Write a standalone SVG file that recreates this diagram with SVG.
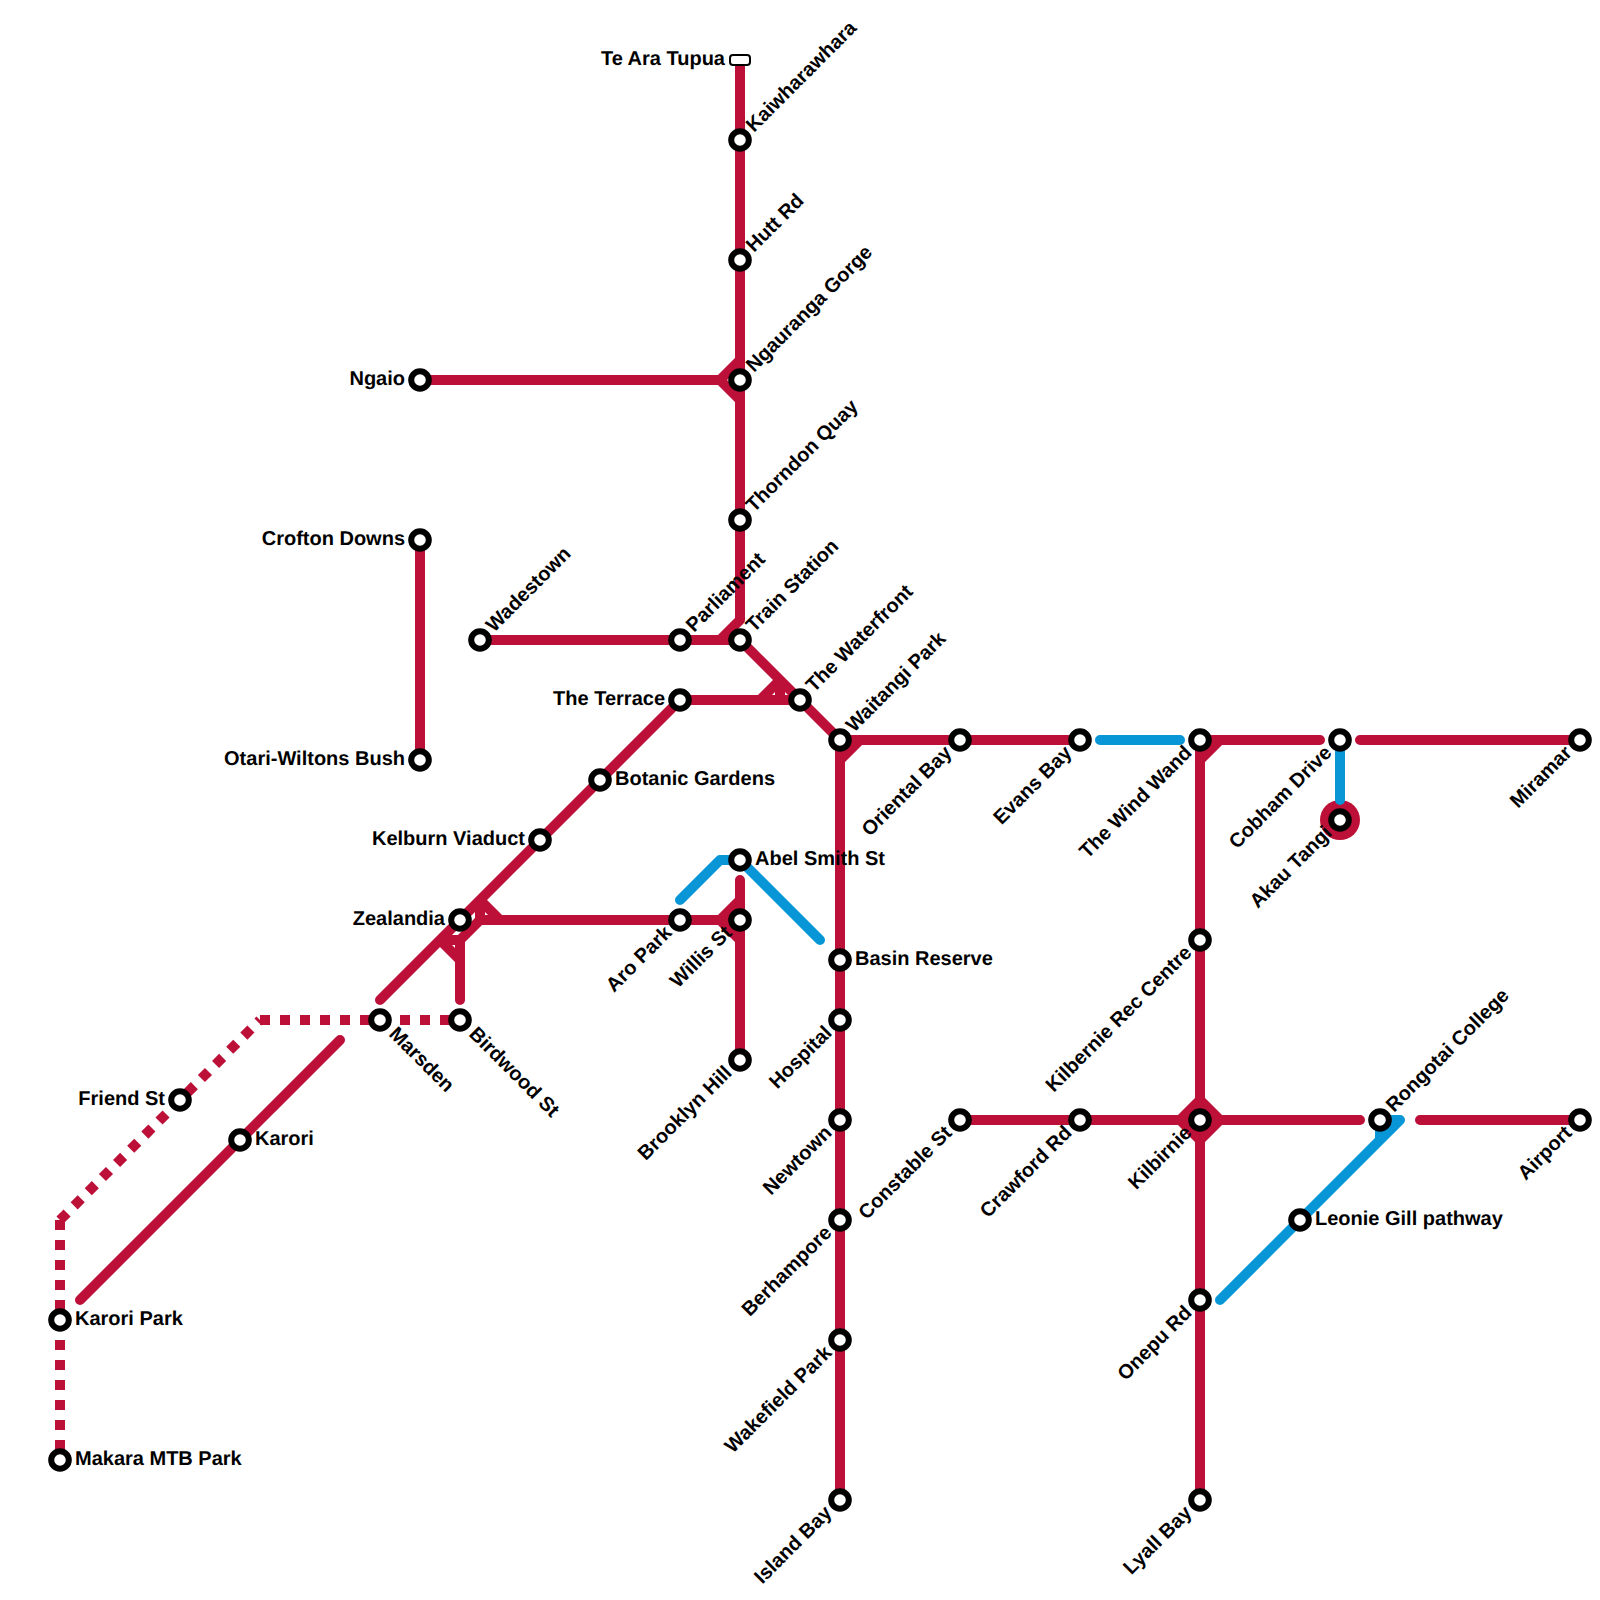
<svg xmlns="http://www.w3.org/2000/svg" width="1600" height="1600" viewBox="0 0 1600 1600">
<style>
.r{fill:none;stroke:#bd1038;stroke-width:10;stroke-linecap:round;stroke-linejoin:round}
.b{fill:none;stroke:#0896d7;stroke-width:10;stroke-linecap:round;stroke-linejoin:round}
.d{fill:none;stroke:#bd1038;stroke-width:10;stroke-dasharray:10 10}
.s{fill:#fff;stroke:#000;stroke-width:6}
text{font-family:"Liberation Sans",Arial,sans-serif;font-weight:700;font-size:20px;fill:#000;text-rendering:geometricPrecision}
.e{text-anchor:end}
</style>
<rect width="1600" height="1600" fill="#fff"/>
<g id="connectors">
<path class="r" d="M740 60V620M420 380H720M720 380L740 360M720 380L740 400M420 540V760M480 640H740M720 640L740 620M740 640L840 740M680 700H800M760 700L780 680M780 680V700M840 740H1080M860 740L840 760M840 740V1500M380 1000L680 700M480 920H740M480 900L500 920M480 900V920M480 920L460 940V1000M440 940L460 960M440 940H460M720 920L740 900M720 920L740 940M740 880V1060M80 1300L340 1040M1200 740V1500M1200 740H1320M1220 740L1200 760M1360 740H1580M960 1120H1360M1420 1120H1580"/>
<path d="M1180 1120L1200 1100L1220 1120L1200 1140Z" fill="#bd1038" stroke="#bd1038" stroke-width="10" stroke-linejoin="round"/>
<circle cx="1340" cy="820" r="20" fill="#bd1038"/>
<path class="d" d="M60 1220L260 1020"/>
<path class="d" d="M60 1220V1460"/>
<path class="d" d="M260 1020H460"/>
<path class="b" d="M680 900L720 860H740L820 940M1100 740H1180M1340 740V800M1220 1300L1400 1120H1380V1140"/>
</g>
<rect id="te-ara-tupua" x="730" y="55" width="20" height="10" rx="3" fill="#fff" stroke="#000" stroke-width="2"/>
<g id="stations">
<circle id="kaiwharawhara" class="s" cx="740" cy="140" r="8.8"/>
<circle id="hutt-rd" class="s" cx="740" cy="260" r="8.8"/>
<circle id="ngauranga-gorge" class="s" cx="740" cy="380" r="8.8"/>
<circle id="thorndon-quay" class="s" cx="740" cy="520" r="8.8"/>
<circle id="train-station" class="s" cx="740" cy="640" r="8.8"/>
<circle id="parliament" class="s" cx="680" cy="640" r="8.8"/>
<circle id="wadestown" class="s" cx="480" cy="640" r="8.8"/>
<circle id="the-terrace" class="s" cx="680" cy="700" r="8.8"/>
<circle id="the-waterfront" class="s" cx="800" cy="700" r="8.8"/>
<circle id="waitangi-park" class="s" cx="840" cy="740" r="8.8"/>
<circle id="oriental-bay" class="s" cx="960" cy="740" r="8.8"/>
<circle id="evans-bay" class="s" cx="1080" cy="740" r="8.8"/>
<circle id="the-wind-wand" class="s" cx="1200" cy="740" r="8.8"/>
<circle id="cobham-drive" class="s" cx="1340" cy="740" r="8.8"/>
<circle id="miramar" class="s" cx="1580" cy="740" r="8.8"/>
<circle id="akau-tangi" class="s" cx="1340" cy="820" r="8.8"/>
<circle id="abel-smith-st" class="s" cx="740" cy="860" r="8.8"/>
<circle id="willis-st" class="s" cx="740" cy="920" r="8.8"/>
<circle id="aro-park" class="s" cx="680" cy="920" r="8.8"/>
<circle id="basin-reserve" class="s" cx="840" cy="960" r="8.8"/>
<circle id="hospital" class="s" cx="840" cy="1020" r="8.8"/>
<circle id="newtown" class="s" cx="840" cy="1120" r="8.8"/>
<circle id="berhampore" class="s" cx="840" cy="1220" r="8.8"/>
<circle id="wakefield-park" class="s" cx="840" cy="1340" r="8.8"/>
<circle id="island-bay" class="s" cx="840" cy="1500" r="8.8"/>
<circle id="constable-st" class="s" cx="960" cy="1120" r="8.8"/>
<circle id="crawford-rd" class="s" cx="1080" cy="1120" r="8.8"/>
<circle id="kilbirnie" class="s" cx="1200" cy="1120" r="8.8"/>
<circle id="rongotai-college" class="s" cx="1380" cy="1120" r="8.8"/>
<circle id="airport" class="s" cx="1580" cy="1120" r="8.8"/>
<circle id="leonie-gill-pathway" class="s" cx="1300" cy="1220" r="8.8"/>
<circle id="onepu-rd" class="s" cx="1200" cy="1300" r="8.8"/>
<circle id="lyall-bay" class="s" cx="1200" cy="1500" r="8.8"/>
<circle id="kilbirnie-rec-centre" class="s" cx="1200" cy="940" r="8.8"/>
<circle id="brooklyn-hill" class="s" cx="740" cy="1060" r="8.8"/>
<circle id="zealandia" class="s" cx="460" cy="920" r="8.8"/>
<circle id="birdwood-st" class="s" cx="460" cy="1020" r="8.8"/>
<circle id="marsden" class="s" cx="380" cy="1020" r="8.8"/>
<circle id="kelburn-viaduct" class="s" cx="540" cy="840" r="8.8"/>
<circle id="botanic-gardens" class="s" cx="600" cy="780" r="8.8"/>
<circle id="karori" class="s" cx="240" cy="1140" r="8.8"/>
<circle id="karori-park" class="s" cx="60" cy="1320" r="8.8"/>
<circle id="makara-mtb-park" class="s" cx="60" cy="1460" r="8.8"/>
<circle id="friend-st" class="s" cx="180" cy="1100" r="8.8"/>
<circle id="ngaio" class="s" cx="420" cy="380" r="8.8"/>
<circle id="crofton-downs" class="s" cx="420" cy="540" r="8.8"/>
<circle id="otari-wiltons-bush" class="s" cx="420" cy="760" r="8.8"/>
</g>
<g id="labels">
<text class="e" x="725" y="65">Te Ara Tupua</text>
<text transform="translate(749 128) rotate(-45)" x="0" y="7">Kaiwharawhara</text>
<text transform="translate(749 248) rotate(-45)" x="0" y="7">Hutt Rd</text>
<text transform="translate(749 368) rotate(-45)" x="0" y="7">Ngauranga Gorge</text>
<text transform="translate(749 508) rotate(-45)" x="0" y="7">Thorndon Quay</text>
<text transform="translate(749 628) rotate(-45)" x="0" y="7">Train Station</text>
<text transform="translate(689 628) rotate(-45)" x="0" y="7">Parliament</text>
<text transform="translate(489 628) rotate(-45)" x="0" y="7">Wadestown</text>
<text transform="translate(809 688) rotate(-45)" x="0" y="7">The Waterfront</text>
<text transform="translate(849 728) rotate(-45)" x="0" y="7">Waitangi Park</text>
<text transform="translate(1389 1108) rotate(-45)" x="0" y="7">Rongotai College</text>
<text class="e" x="405" y="385">Ngaio</text>
<text class="e" x="405" y="545">Crofton Downs</text>
<text class="e" x="405" y="765">Otari-Wiltons Bush</text>
<text class="e" x="665" y="705">The Terrace</text>
<text class="e" x="525" y="845">Kelburn Viaduct</text>
<text class="e" x="445" y="925">Zealandia</text>
<text class="e" x="165" y="1105">Friend St</text>
<text x="615" y="785">Botanic Gardens</text>
<text x="755" y="865">Abel Smith St</text>
<text x="855" y="965">Basin Reserve</text>
<text x="255" y="1145">Karori</text>
<text x="75" y="1325">Karori Park</text>
<text x="75" y="1465">Makara MTB Park</text>
<text x="1315" y="1225">Leonie Gill pathway</text>
<text transform="translate(393 1030) rotate(45)" x="0" y="7">Marsden</text>
<text transform="translate(473 1030) rotate(45)" x="0" y="7">Birdwood St</text>
<text class="e" transform="translate(668 929) rotate(-45)" x="0" y="7">Aro Park</text>
<text class="e" transform="translate(728 929) rotate(-45)" x="0" y="7">Willis St</text>
<text class="e" transform="translate(728 1069) rotate(-45)" x="0" y="7">Brooklyn Hill</text>
<text class="e" transform="translate(828 1029) rotate(-45)" x="0" y="7">Hospital</text>
<text class="e" transform="translate(828 1129) rotate(-45)" x="0" y="7">Newtown</text>
<text class="e" transform="translate(828 1229) rotate(-45)" x="0" y="7">Berhampore</text>
<text class="e" transform="translate(828 1349) rotate(-45)" x="0" y="7">Wakefield Park</text>
<text class="e" transform="translate(828 1509) rotate(-45)" x="0" y="7">Island Bay</text>
<text class="e" transform="translate(948 749) rotate(-45)" x="0" y="7">Oriental Bay</text>
<text class="e" transform="translate(1068 749) rotate(-45)" x="0" y="7">Evans Bay</text>
<text class="e" transform="translate(1188 749) rotate(-45)" x="0" y="7">The Wind Wand</text>
<text class="e" transform="translate(1328 749) rotate(-45)" x="0" y="7">Cobham Drive</text>
<text class="e" transform="translate(1568 749) rotate(-45)" x="0" y="7">Miramar</text>
<text class="e" transform="translate(1328 829) rotate(-45)" x="0" y="7">Akau Tangi</text>
<text class="e" transform="translate(948 1129) rotate(-45)" x="0" y="7">Constable St</text>
<text class="e" transform="translate(1068 1129) rotate(-45)" x="0" y="7">Crawford Rd</text>
<text class="e" transform="translate(1188 1129) rotate(-45)" x="0" y="7">Kilbirnie</text>
<text class="e" transform="translate(1568 1129) rotate(-45)" x="0" y="7">Airport</text>
<text class="e" transform="translate(1188 949) rotate(-45)" x="0" y="7">Kilbernie Rec Centre</text>
<text class="e" transform="translate(1188 1309) rotate(-45)" x="0" y="7">Onepu Rd</text>
<text class="e" transform="translate(1188 1509) rotate(-45)" x="0" y="7">Lyall Bay</text>
</g>
</svg>
